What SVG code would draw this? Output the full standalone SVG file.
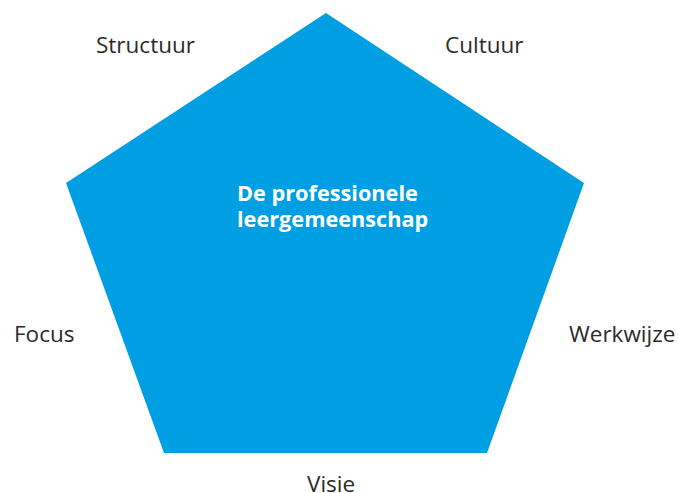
<svg xmlns="http://www.w3.org/2000/svg" width="679" height="493" viewBox="0 0 679 493">
  <style>
    .shape { fill: #009FE3; }
    .label { font-family: "Open Sans", "DejaVu Sans", sans-serif; font-size: 22.5px; fill: #2b2b2b; }
    .title { font-family: "Open Sans", "DejaVu Sans", sans-serif; font-size: 21.7px; font-weight: bold; fill: #ffffff; }
  </style>
  <rect width="679" height="493" fill="#ffffff"/>
  <g id="pentagon">
    <polygon class="shape" points="326,13 584,183 487,453 164,453 66,183"/>
    <text class="title" x="237" y="201">De professionele</text>
    <text class="title" x="237" y="227">leergemeenschap</text>
  </g>
  <g id="structuur"><text class="label" x="96" y="53">Structuur</text></g>
  <g id="cultuur"><text class="label" x="445" y="53">Cultuur</text></g>
  <g id="focus"><text class="label" x="14" y="342">Focus</text></g>
  <g id="werkwijze"><text class="label" x="569" y="342">Werkwijze</text></g>
  <g id="visie"><text class="label" x="307" y="492">Visie</text></g>
  <g id="connectors"></g>
</svg>
